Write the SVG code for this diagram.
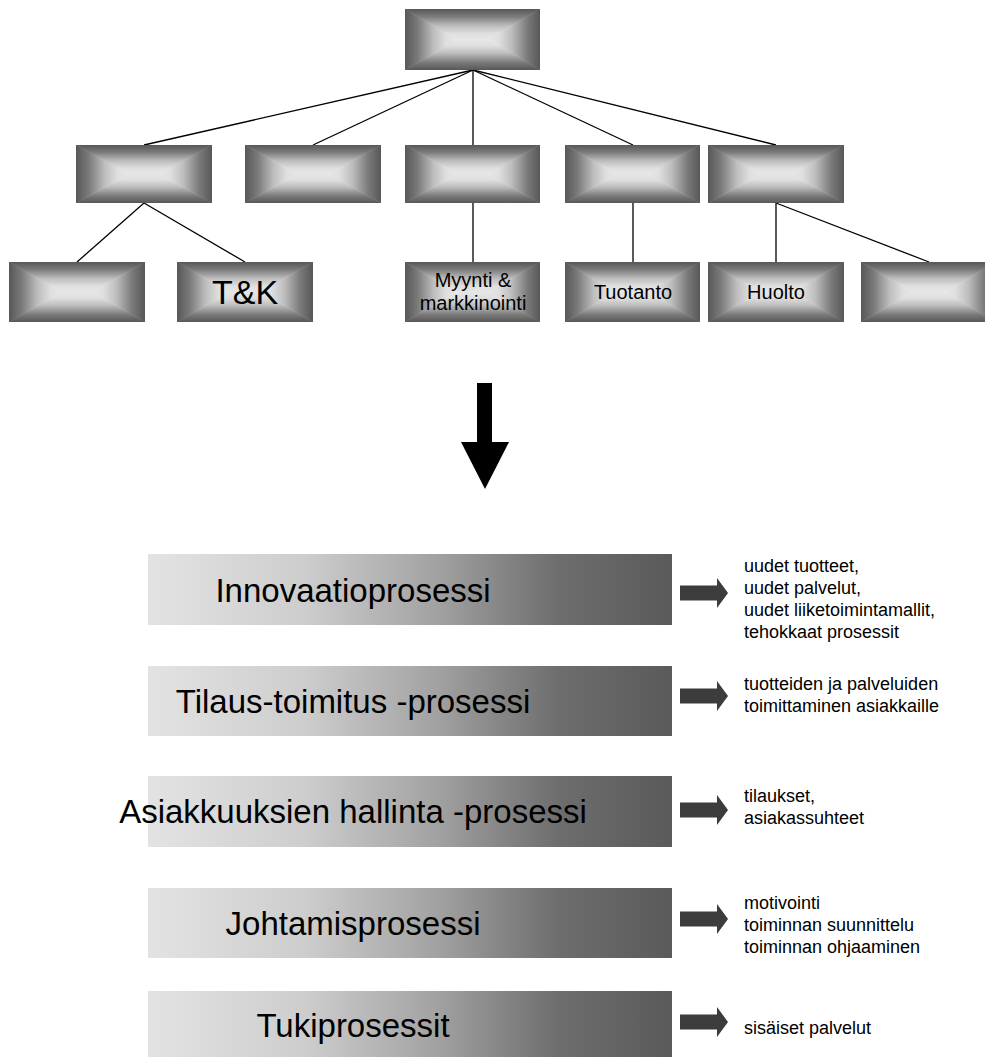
<svg xmlns="http://www.w3.org/2000/svg" xmlns:xlink="http://www.w3.org/1999/xlink" width="985" height="1057" viewBox="0 0 985 1057">
  <style>
    .txt { font-family: "Liberation Sans", Arial, sans-serif; fill: #000; }
    .lbl { font-size: 20px; text-anchor: middle; }
    .big { font-size: 34px; text-anchor: middle; }
    .proc { font-size: 33px; text-anchor: middle; }
    .note { font-size: 18px; }
    .link { stroke: #000; stroke-width: 1.3; fill: none; }
    .out { fill: #3c3c3c; }
  </style>
  <defs>
    <!-- bevel shading: dark rim fading to a broad light centre -->
    <linearGradient id="gT" x1="0" y1="0" x2="0" y2="1">
      <stop offset="0" stop-color="#575757"/>
      <stop offset="0.25" stop-color="#7b7b7b"/>
      <stop offset="0.55" stop-color="#bdbdbd"/>
      <stop offset="0.8" stop-color="#dfdfdf"/>
      <stop offset="1" stop-color="#e6e6e6"/>
    </linearGradient>
    <linearGradient id="gB" xlink:href="#gT" x1="0" y1="1" x2="0" y2="0"/>
    <linearGradient id="gL" xlink:href="#gT" x1="0" y1="0" x2="1" y2="0"/>
    <linearGradient id="gR" xlink:href="#gT" x1="1" y1="0" x2="0" y2="0"/>
    <symbol id="bevel" viewBox="0 0 136 60" preserveAspectRatio="none">
      <polygon points="0,0 136,0 84,30 52,30" fill="url(#gT)" stroke="url(#gT)" stroke-width="0.6"/>
      <polygon points="0,60 136,60 84,30 52,30" fill="url(#gB)" stroke="url(#gB)" stroke-width="0.6"/>
      <polygon points="0,0 52,30 0,60" fill="url(#gL)" stroke="url(#gL)" stroke-width="0.6"/>
      <polygon points="136,0 84,30 136,60" fill="url(#gR)" stroke="url(#gR)" stroke-width="0.6"/>
    </symbol>
    <!-- process bar: light on the left, dark on the right -->
    <linearGradient id="gBar" x1="0" y1="0" x2="1" y2="0">
      <stop offset="0" stop-color="#e3e3e3"/>
      <stop offset="0.3" stop-color="#cdcdcd"/>
      <stop offset="0.55" stop-color="#a2a2a2"/>
      <stop offset="0.78" stop-color="#6e6e6e"/>
      <stop offset="1" stop-color="#5a5a5a"/>
    </linearGradient>
    <polygon id="outArrow" points="0,-7.5 37,-7.5 37,-15 48,0 37,15 37,7.5 0,7.5"/>
  </defs>

  <!-- connectors of the organisation chart -->
  <g id="connectors">
    <line class="link" x1="473" y1="70" x2="144" y2="145"/>
    <line class="link" x1="473" y1="70" x2="313" y2="145"/>
    <line class="link" x1="473" y1="70" x2="473" y2="145"/>
    <line class="link" x1="473" y1="70" x2="633" y2="145"/>
    <line class="link" x1="473" y1="70" x2="776" y2="145"/>
    <line class="link" x1="144" y1="203" x2="77" y2="262"/>
    <line class="link" x1="144" y1="203" x2="245" y2="262"/>
    <line class="link" x1="473" y1="203" x2="473" y2="262"/>
    <line class="link" x1="633" y1="203" x2="633" y2="262"/>
    <line class="link" x1="776" y1="203" x2="776" y2="262"/>
    <line class="link" x1="776" y1="203" x2="929" y2="262"/>
  </g>

  <!-- top level -->
  <g id="root"><use xlink:href="#bevel" x="405" y="9" width="135" height="61"/></g>

  <!-- second level -->
  <g id="unit1"><use xlink:href="#bevel" x="76" y="145" width="136" height="58"/></g>
  <g id="unit2"><use xlink:href="#bevel" x="245" y="145" width="136" height="58"/></g>
  <g id="unit3"><use xlink:href="#bevel" x="405" y="145" width="135" height="58"/></g>
  <g id="unit4"><use xlink:href="#bevel" x="565" y="145" width="135" height="58"/></g>
  <g id="unit5"><use xlink:href="#bevel" x="708" y="145" width="136" height="58"/></g>

  <!-- third level -->
  <g id="dept1"><use xlink:href="#bevel" x="9" y="262" width="136" height="60"/></g>
  <g id="dept-tk">
    <use xlink:href="#bevel" x="177" y="262" width="136" height="60"/>
    <text class="txt big" x="245" y="304">T&amp;K</text>
  </g>
  <g id="dept-sales">
    <use xlink:href="#bevel" x="405" y="262" width="135" height="60"/>
    <text class="txt lbl" x="473" y="287">Myynti &amp;</text>
    <text class="txt lbl" x="473" y="310">markkinointi</text>
  </g>
  <g id="dept-production">
    <use xlink:href="#bevel" x="565" y="262" width="135" height="60"/>
    <text class="txt lbl" x="633" y="299">Tuotanto</text>
  </g>
  <g id="dept-service">
    <use xlink:href="#bevel" x="708" y="262" width="136" height="60"/>
    <text class="txt lbl" x="776" y="299">Huolto</text>
  </g>
  <g id="dept6"><use xlink:href="#bevel" x="861" y="262" width="136" height="60"/></g>

  <!-- transition arrow -->
  <g id="transition">
    <rect x="477" y="383" width="15" height="60" fill="#000"/>
    <polygon points="461,442 509,442 485,489" fill="#000"/>
  </g>

  <!-- process bars -->
  <g id="p-innovation">
    <rect x="148" y="554" width="524" height="71" fill="url(#gBar)"/>
    <text class="txt proc" x="353" y="602">Innovaatioprosessi</text>
    <use xlink:href="#outArrow" class="out" x="680" y="593"/>
    <text class="txt note" x="744" y="572">uudet tuotteet,</text>
    <text class="txt note" x="744" y="594">uudet palvelut,</text>
    <text class="txt note" x="744" y="616">uudet liiketoimintamallit,</text>
    <text class="txt note" x="744" y="638">tehokkaat prosessit</text>
  </g>
  <g id="p-delivery">
    <rect x="148" y="666" width="524" height="70" fill="url(#gBar)"/>
    <text class="txt proc" x="353" y="713">Tilaus-toimitus -prosessi</text>
    <use xlink:href="#outArrow" class="out" x="680" y="696"/>
    <text class="txt note" x="744" y="690">tuotteiden ja palveluiden</text>
    <text class="txt note" x="744" y="712">toimittaminen asiakkaille</text>
  </g>
  <g id="p-customers">
    <rect x="148" y="776" width="524" height="71" fill="url(#gBar)"/>
    <text class="txt proc" x="353" y="823">Asiakkuuksien hallinta -prosessi</text>
    <use xlink:href="#outArrow" class="out" x="680" y="810"/>
    <text class="txt note" x="744" y="802">tilaukset,</text>
    <text class="txt note" x="744" y="824">asiakassuhteet</text>
  </g>
  <g id="p-management">
    <rect x="148" y="888" width="524" height="70" fill="url(#gBar)"/>
    <text class="txt proc" x="353" y="935">Johtamisprosessi</text>
    <use xlink:href="#outArrow" class="out" x="680" y="919"/>
    <text class="txt note" x="744" y="909">motivointi</text>
    <text class="txt note" x="744" y="931">toiminnan suunnittelu</text>
    <text class="txt note" x="744" y="953">toiminnan ohjaaminen</text>
  </g>
  <g id="p-support">
    <rect x="148" y="991" width="524" height="71" fill="url(#gBar)"/>
    <text class="txt proc" x="353" y="1037">Tukiprosessit</text>
    <use xlink:href="#outArrow" class="out" x="680" y="1022"/>
    <text class="txt note" x="744" y="1034">sisäiset palvelut</text>
  </g>
</svg>
